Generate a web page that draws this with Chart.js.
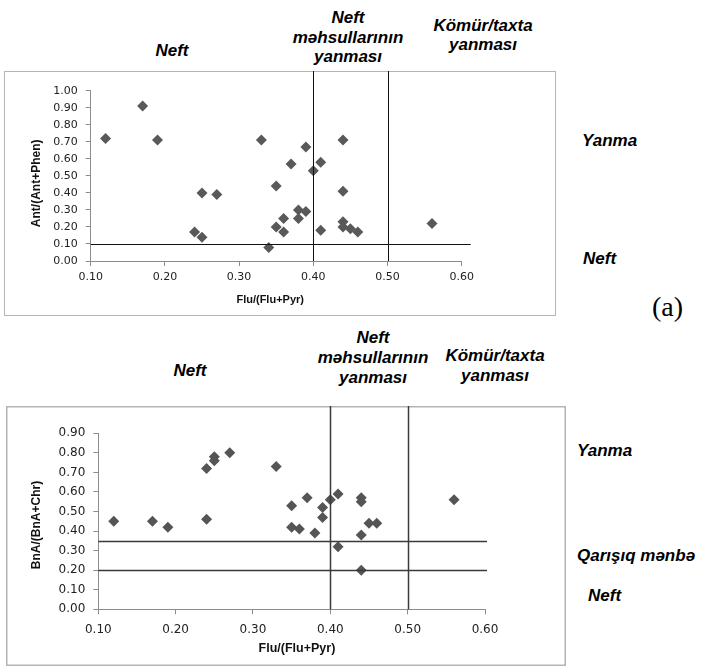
<!DOCTYPE html>
<html><head><meta charset="utf-8">
<script src="https://cdn.jsdelivr.net/npm/chart.js@4.4.1/dist/chart.umd.min.js"></script>
<style>
html,body{margin:0;padding:0;background:#fff;}
body{width:701px;height:672px;position:relative;overflow:hidden;}
.lbl{position:absolute;font-family:"Liberation Sans",Arial,sans-serif;font-weight:bold;font-style:italic;font-size:17px;line-height:19.5px;color:#000;white-space:nowrap;}
.c{transform:translateX(-50%);text-align:center;}
.serif{position:absolute;font-family:"Liberation Serif","Times New Roman",serif;font-size:28px;line-height:32px;color:#000;}
canvas{position:absolute;}
</style></head><body>

<div class="lbl c" style="left:172px;top:41px;">Neft</div>
<div class="lbl c" style="left:348px;top:8px;">Neft<br>məhsullarının<br>yanması</div>
<div class="lbl c" style="left:483px;top:16px;line-height:19px;">Kömür/taxta<br>yanması</div>
<div class="lbl" style="left:582px;top:131px;">Yanma</div>
<div class="lbl" style="left:583px;top:249px;">Neft</div>
<div class="serif" style="left:652px;top:291px;">(a)</div>

<div class="lbl c" style="left:190px;top:361px;">Neft</div>
<div class="lbl c" style="left:373px;top:328px;line-height:20px;">Neft<br>məhsullarının<br>yanması</div>
<div class="lbl c" style="left:495px;top:346px;line-height:20px;">Kömür/taxta<br>yanması</div>
<div class="lbl" style="left:577px;top:441px;">Yanma</div>
<div class="lbl" style="left:577px;top:546px;">Qarışıq mənbə</div>
<div class="lbl" style="left:588px;top:586px;">Neft</div>

<canvas id="c1" width="552" height="245" style="left:4px;top:71px;width:552px;height:245px;"></canvas>
<canvas id="c2" width="560" height="260" style="left:6px;top:406px;width:560px;height:260px;"></canvas>

<script>
// ---- Chart (a): Flu/(Flu+Pyr) vs Ant/(Ant+Phen)
const topFlu = [0.12,0.17,0.19,0.24,0.25,0.25,0.27,0.33,0.34,0.35,0.35,0.36,0.36,0.37,0.38,0.38,0.39,0.39,0.40,0.41,0.41,0.44,0.44,0.44,0.44,0.45,0.46,0.56];
const topAnt = [0.72,0.91,0.71,0.17,0.14,0.40,0.39,0.71,0.08,0.44,0.20,0.25,0.17,0.57,0.30,0.25,0.29,0.67,0.53,0.58,0.18,0.71,0.41,0.23,0.20,0.19,0.17,0.22];
const topXLines = [0.40, 0.50];
const topYLines = [0.10];
const topYTicks = [0,0.1,0.2,0.3,0.4,0.5,0.6,0.7,0.8,0.9,1.0];

// ---- Chart (b): Flu/(Flu+Pyr) vs BnA/(BnA+Chr)
const botFlu = [0.12,0.17,0.19,0.24,0.24,0.25,0.25,0.27,0.33,0.35,0.35,0.36,0.37,0.38,0.39,0.39,0.40,0.41,0.41,0.44,0.44,0.44,0.44,0.45,0.46,0.56];
const botBnA = [0.45,0.45,0.42,0.72,0.46,0.78,0.76,0.80,0.73,0.53,0.42,0.41,0.57,0.39,0.52,0.47,0.56,0.59,0.32,0.57,0.55,0.38,0.20,0.44,0.44,0.56];
const botXLines = [0.40, 0.50];
const botYLines = [0.35, 0.20];
const botYTicks = [0,0.1,0.2,0.3,0.4,0.5,0.6,0.7,0.8,0.9];

const xTicks = [0.1,0.2,0.3,0.4,0.5,0.6];

const decor = {
  id: 'decor',
  beforeDraw(chart, args, o) {
    const {ctx, width, height} = chart;
    ctx.save();
    ctx.strokeStyle = o.frameColor; ctx.lineWidth = o.frameWidth;
    ctx.strokeRect(o.frameWidth/2, o.frameWidth/2, width - o.frameWidth, height - o.frameWidth);
    ctx.restore();
  },
  afterDatasetsDraw(chart, args, o) {
    const {ctx, chartArea: a, scales: {x, y}} = chart;
    ctx.save();
    ctx.strokeStyle = o.lineColor; ctx.lineWidth = o.lineWidth;
    o.xLines.forEach(v => {
      const px = Math.round(x.getPixelForValue(v)) + 0.5;
      ctx.beginPath(); ctx.moveTo(px, 0); ctx.lineTo(px, a.bottom); ctx.stroke();
    });
    o.yLines.forEach(v => {
      const py = Math.round(y.getPixelForValue(v)) + 0.5;
      ctx.beginPath(); ctx.moveTo(a.left, py); ctx.lineTo(a.right + o.hExtend, py); ctx.stroke();
    });
    ctx.restore();
  },
  afterDraw(chart, args, o) {
    const {ctx, chartArea: a} = chart;
    ctx.save();
    ctx.fillStyle = '#111';
    ctx.textAlign = 'center'; ctx.textBaseline = 'middle';
    ctx.font = 'bold ' + o.xTitleSize + 'px "Liberation Sans", Arial, sans-serif';
    ctx.fillText(o.xTitle, (a.left + a.right)/2 + o.xTitleDX, a.bottom + o.xTitleDY);
    ctx.font = 'bold ' + o.yTitleSize + 'px "Liberation Sans", Arial, sans-serif';
    ctx.translate(a.left + o.yTitleDX, (a.top + a.bottom)/2 + o.yTitleDY);
    ctx.rotate(-Math.PI/2);
    ctx.fillText(o.yTitle, 0, 0);
    ctx.restore();
  }
};

function makeChart(id, c) {
  return new Chart(document.getElementById(id), {
    type: 'scatter',
    data: { datasets: [{
      data: c.xs.map((x, i) => ({x: x, y: c.ys[i]})),
      pointStyle: 'rectRot', pointRadius: c.r, pointHoverRadius: c.r,
      backgroundColor: c.color, borderColor: c.color, borderWidth: 0
    }]},
    options: {
      responsive: false, animation: false, events: [],
      layout: { padding: { left: 0, top: c.padTop, right: c.padRight, bottom: 0 } },
      plugins: {
        legend: { display: false }, tooltip: { enabled: false },
        decor: c.decor
      },
      scales: {
        x: {
          type: 'linear', min: 0.1, max: 0.6,
          afterBuildTicks: s => { s.ticks = xTicks.map(v => ({value: v})); },
          afterFit: s => { s.height = c.xH; },
          ticks: { callback: v => Number(v).toFixed(2), font: {family: 'DejaVu Sans', size: c.fs}, color: '#222', padding: c.xPad, maxRotation: 0 },
          grid: { display: true, drawOnChartArea: false, drawTicks: true, tickLength: 5, color: '#8c8c8c' },
          border: { display: true, color: '#8c8c8c', width: 1 }
        },
        y: {
          type: 'linear', min: 0, max: c.yMax,
          afterBuildTicks: s => { s.ticks = c.yTicks.map(v => ({value: v})); },
          afterFit: s => { s.width = c.yW; },
          ticks: { callback: v => Number(v).toFixed(2), font: {family: 'DejaVu Sans', size: c.fs}, color: '#222', padding: 8 },
          grid: { display: true, drawOnChartArea: false, drawTicks: true, tickLength: 5, color: '#8c8c8c' },
          border: { display: true, color: '#8c8c8c', width: 1 }
        }
      }
    },
    plugins: [decor]
  });
}

makeChart('c1', {
  xs: topFlu, ys: topAnt, yMax: 1.0, yTicks: topYTicks, r: 5.5, color: '#595959',
  padTop: 19.7, padRight: 94.3, yW: 86.7, xH: 55, fs: 11, xPad: 5,
  decor: { frameColor: '#b4b4b4', frameWidth: 1, lineColor: '#111', lineWidth: 1, hExtend: 9,
    xLines: topXLines, yLines: topYLines,
    xTitle: 'Flu/(Flu+Pyr)', xTitleSize: 11, xTitleDX: -6, xTitleDY: 39,
    yTitle: 'Ant/(Ant+Phen)', yTitleSize: 12, yTitleDX: -54, yTitleDY: 7.5 }
});

makeChart('c2', {
  xs: botFlu, ys: botBnA, yMax: 0.9, yTicks: botYTicks, r: 5.5, color: '#555555',
  padTop: 27.3, padRight: 81, yW: 92.3, xH: 56.7, fs: 12, xPad: 8,
  decor: { frameColor: '#b4b4b4', frameWidth: 1.5, lineColor: '#3a3a3a', lineWidth: 1.5, hExtend: 2,
    xLines: botXLines, yLines: botYLines,
    xTitle: 'Flu/(Flu+Pyr)', xTitleSize: 12.5, xTitleDX: 5.3, xTitleDY: 39.7,
    yTitle: 'BnA/(BnA+Chr)', yTitleSize: 12, yTitleDX: -61.3, yTitleDY: 3.7 }
});
</script>
</body></html>
